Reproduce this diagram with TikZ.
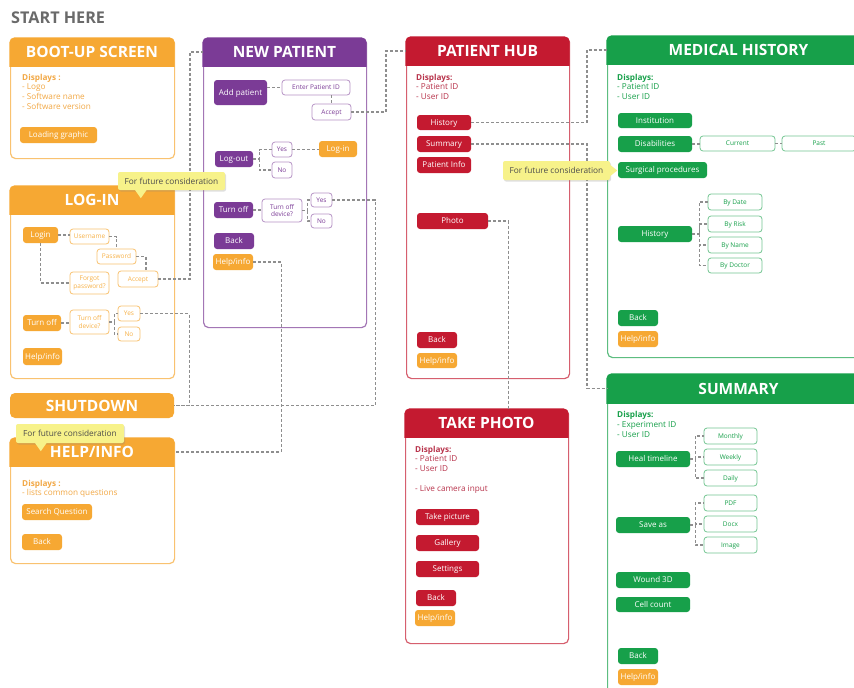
\documentclass[tikz,border=0pt]{standalone}
\usepackage{fontspec}
\setmainfont{Open Sans}
\usetikzlibrary{calc,shadows}
\definecolor{cor}{HTML}{F6A833}
\definecolor{cort}{HTML}{F2A845}
\definecolor{cpu}{HTML}{7B3B96}
\definecolor{cre}{HTML}{C41A30}
\definecolor{cret}{HTML}{B8334B}
\definecolor{cgr}{HTML}{17A04A}
\definecolor{cye}{HTML}{F7F28A}
\definecolor{cln}{HTML}{8E8E8E}
\definecolor{cgt}{HTML}{6A6A6A}
\newcommand{\ttlfont}{\fontsize{15.5}{17}\selectfont\bfseries}
\newcommand{\btfont}{\fontsize{8}{9}\selectfont}
\newcommand{\dtfont}{\fontsize{8.2}{9}\selectfont}
\newcommand{\obfont}{\fontsize{6.5}{7.3}\selectfont}
\newcommand{\bt}[7]{\node[#1, minimum width={#5-#3}, minimum height={#6-#4}] (#2) at ({(#3+#5)/2},{(#4+#6)/2}) {#7};}
\newcommand{\scr}[8]{%
  \node[draw=#7!70, line width=1.2pt, fill=white, rounded corners=5pt, inner sep=0pt, anchor=north west, minimum width={#4-#2}, minimum height={#5-#3}] (#1) at (#2,#3) {};
  \begin{scope}
    \clip ({#2-3},{#3-3}) rectangle ({#4+3},#6);
    \fill[#7, rounded corners=5pt] ({#2-0.6},{#3-0.6}) rectangle ({#4+0.6},{#5+0.6});
  \end{scope}
  \node[text=white, font=\ttlfont, inner sep=0pt, text height=11pt, text depth=0pt] (#1H) at ({(#2+#4)/2},{(#3+#6)/2}) {#8};
}
\tikzset{
  conn/.style={draw=cln, line width=1.1pt, dash pattern=on 3pt off 2pt},
  fb/.style={rounded corners=3pt, inner sep=0pt, text=white, font=\btfont, text height=5.7pt, text depth=0pt},
  fbo/.style={fb, fill=cor}, fbp/.style={fb, fill=cpu}, fbr/.style={fb, fill=cre}, fbg/.style={fb, fill=cgr},
  obase/.style={rounded corners=3pt, inner sep=0pt, fill=white, line width=0.8pt, font=\obfont, align=center},
  ob/.style={obase, text height=4.6pt, text depth=0pt},
  oo/.style={draw=cor!70, text=cor!90}, op/.style={draw=cpu!55, text=cpu}, og/.style={draw=cgr!60, text=cgr},
  dt/.style={anchor=base west, inner sep=0pt, font=\dtfont},
  tipbox/.style={fill=cye, rounded corners=2pt, inner sep=0pt, font=\fontsize{8.3}{9}\selectfont, text=black!70, drop shadow={opacity=0.25, shadow xshift=1pt, shadow yshift=-1.5pt}},
}
\begin{document}
\begin{tikzpicture}[x=1pt,y=-1pt]
\useasboundingbox (0,0) rectangle (854,688);
\clip (0,0) rectangle (854,688);
\fill[white] (0,0) rectangle (854,688);

\node[anchor=west, text=cgt, font=\fontsize{16.2}{18}\selectfont\bfseries, inner sep=0pt, text height=11.5pt, text depth=0pt] (start) at (11,18) {START HERE};

% ---------- screens ----------
\scr{bu}{10}{38}{174}{158}{66}{cor}{BOOT-UP SCREEN}
\scr{li}{10}{186}{174}{378}{214}{cor}{LOG-IN}
\node[fill=cor, rounded corners=5pt, minimum width=164, minimum height=25, inner sep=0pt, text=white, font=\ttlfont, text height=11pt, text depth=0pt] (sd) at (92,405.5) {SHUTDOWN};
\scr{hi}{10}{438}{174}{563}{466}{cor}{HELP/INFO}
\scr{np}{203}{38}{366}{327}{66}{cpu}{NEW PATIENT}
\scr{hub}{406}{37}{569}{378}{65}{cre}{PATIENT HUB}
\scr{tp}{405}{409}{568}{643}{437}{cre}{TAKE PHOTO}
\scr{mh}{607}{36}{870}{357}{64}{cgr}{MEDICAL HISTORY}
\scr{sm}{607}{374}{870}{700}{403}{cgr}{SUMMARY}

% ---------- boot-up ----------
\node[dt, text=cort] (bud0) at (22,80) {\textbf{Displays :}};
\node[dt, text=cort] (bud1) at (22,89.5) {- Logo};
\node[dt, text=cort] (bud2) at (22,99.5) {- Software name};
\node[dt, text=cort] (bud3) at (22,109) {- Software version};
\bt{fbo}{buLoad}{20}{127}{97}{143}{Loading graphic}

% ---------- log-in ----------
\bt{fbo}{liLogin}{23}{227}{58}{243}{Login}
\bt{ob,oo}{liUser}{70}{229}{109}{244}{Username}
\bt{ob,oo}{liPass}{97}{249}{136}{264}{Password}
\bt{ob,oo}{liAcc}{118}{271}{158}{287}{Accept}
\bt{obase,oo}{liForgot}{70}{272}{109}{294}{Forgot\\password?}
\bt{fbo}{liTurn}{23}{315}{61}{331}{Turn off}
\bt{obase,oo}{liDev}{70}{310}{109}{334}{Turn off\\device?}
\bt{ob,oo}{liYes}{118}{306}{140}{321}{Yes}
\bt{ob,oo}{liNo}{118}{327}{140}{341}{No}
\bt{fbo}{liHelp}{23}{348}{62}{365}{Help/info}

% ---------- help/info ----------
\node[dt, text=cort] (hid0) at (22,486) {\textbf{Displays :}};
\node[dt, text=cort] (hid1) at (22,495) {- lists common questions};
\bt{fbo}{hiSearch}{22}{504}{92}{520}{Search Question}
\bt{fbo}{hiBack}{22}{534}{62}{550}{Back}

% ---------- new patient ----------
\bt{fbp}{npAdd}{214}{80}{267}{105}{Add patient}
\bt{ob,op}{npEnter}{282}{80}{350}{95}{Enter Patient ID}
\bt{ob,op}{npAcc}{312}{104}{351}{120}{Accept}
\bt{fbp}{npLogout}{215}{151}{253}{167}{Log-out}
\bt{ob,op}{npLY}{272}{142}{292}{157}{Yes}
\bt{ob,op}{npLN}{272}{162}{292}{178}{No}
\bt{fbo}{npLogin}{319}{141}{357}{157}{Log-in}
\bt{fbp}{npTurn}{214}{202}{253}{218}{Turn off}
\bt{obase,op}{npDev}{262}{199}{302}{222}{Turn off\\device?}
\bt{ob,op}{npTY}{311}{193}{332}{207}{Yes}
\bt{ob,op}{npTN}{311}{214}{332}{228}{No}
\bt{fbp}{npBack}{214}{233}{254}{249}{Back}
\bt{fbo}{npHelp}{213}{254}{253}{270}{Help/info}

% ---------- patient hub ----------
\node[dt, text=cret] (hubd0) at (416,80) {\textbf{Displays:}};
\node[dt, text=cret] (hubd1) at (416,89.5) {- Patient ID};
\node[dt, text=cret] (hubd2) at (416,99.5) {- User ID};
\bt{fbr}{hubHist}{417}{115}{471}{130}{History}
\bt{fbr}{hubSum}{417}{136}{471}{152}{Summary}
\bt{fbr}{hubInfo}{417}{157}{471}{173}{Patient Info}
\bt{fbr}{hubPhoto}{417}{213}{488}{229}{Photo}
\bt{fbr}{hubBack}{417}{332}{457}{348}{Back}
\bt{fbo}{hubHelp}{417}{353}{457}{368}{Help/info}

% ---------- take photo ----------
\node[dt, text=cret] (tpd0) at (415,452) {\textbf{Displays:}};
\node[dt, text=cret] (tpd1) at (415,461.5) {- Patient ID};
\node[dt, text=cret] (tpd2) at (415,471.5) {- User ID};
\node[dt, text=cret] (tpd3) at (415,491.5) {- Live camera input};
\bt{fbr}{tpTake}{416}{509}{479}{525}{Take picture}
\bt{fbr}{tpGal}{416}{535}{479}{551}{Gallery}
\bt{fbr}{tpSet}{416}{561}{479}{577}{Settings}
\bt{fbr}{tpBack}{416}{590}{456}{606}{Back}
\bt{fbo}{tpHelp}{415}{610}{455}{626}{Help/info}

% ---------- medical history ----------
\node[dt, text=cgr] (mhd0) at (617,80) {\textbf{Displays:}};
\node[dt, text=cgr] (mhd1) at (617,89) {- Patient ID};
\node[dt, text=cgr] (mhd2) at (617,99) {- User ID};
\bt{fbg}{mhInst}{618}{113}{692}{128}{Institution}
\bt{fbg}{mhDis}{618}{136}{692}{152}{Disabilities}
\bt{ob,og}{mhCur}{700}{136}{775}{151}{Current}
\bt{ob,og}{mhPast}{782}{136}{856}{151}{Past}
\bt{fbg}{mhSurg}{618}{162}{707}{178}{Surgical procedures}
\bt{fbg}{mhHist}{618}{226}{692}{242}{History}
\bt{ob,og}{mhDate}{708}{194}{762}{210}{By Date}
\bt{ob,og}{mhRisk}{708}{216}{762}{232}{By Risk}
\bt{ob,og}{mhName}{708}{237}{762}{253}{By Name}
\bt{ob,og}{mhDoc}{708}{258}{762}{273}{By Doctor}
\bt{fbg}{mhBack}{618}{310}{658}{326}{Back}
\bt{fbo}{mhHelp}{618}{331}{658}{347}{Help/info}

% ---------- summary ----------
\node[dt, text=cgr] (smd0) at (617,417.5) {\textbf{Displays:}};
\node[dt, text=cgr] (smd1) at (617,427) {- Experiment ID};
\node[dt, text=cgr] (smd2) at (617,437) {- User ID};
\bt{fbg}{smHeal}{616}{451}{690}{467}{Heal timeline}
\bt{ob,og}{smMon}{704}{428}{757}{444}{Monthly}
\bt{ob,og}{smWeek}{704}{449}{757}{465}{Weekly}
\bt{ob,og}{smDaily}{704}{470}{757}{486}{Daily}
\bt{fbg}{smSave}{616}{517}{690}{533}{Save as}
\bt{ob,og}{smPdf}{704}{495}{757}{511}{PDF}
\bt{ob,og}{smDocx}{704}{516}{757}{532}{Docx}
\bt{ob,og}{smImg}{704}{537}{757}{553}{Image}
\bt{fbg}{smWound}{616}{572}{690}{588}{Wound 3D}
\bt{fbg}{smCell}{616}{597}{690}{612}{Cell count}
\bt{fbg}{smBack}{618}{648}{658}{664}{Back}
\bt{fbo}{smHelp}{618}{669}{658}{685}{Help/info}

% ---------- connectors inside screens ----------
\draw[conn] (liLogin.east) -- (liLogin.east -| liUser.west);
\draw[conn] (liUser.east) -| (liPass.north);
\draw[conn] (liPass.east) -| ([xshift=8pt]liAcc.north);
\draw[conn] (liLogin.south) |- (liForgot.west);
\draw[conn] (liTurn.east) -- (liTurn.east -| liDev.west);
\draw[conn] (liDev.east) -- ++(5,0) |- (liYes.west);
\draw[conn] ($(liDev.east)+(5,0)$) |- (liNo.west);

\draw[conn] (npAdd.east |- npEnter.west) -- (npEnter.west);
\draw[conn] (npEnter.south -| npAcc.north) -- (npAcc.north);
\draw[conn] (npLogout.east) -- ++(6,0) |- (npLY.west);
\draw[conn] ($(npLogout.east)+(6,0)$) |- (npLN.west);
\draw[conn] (npLY.east) -- (npLY.east -| npLogin.west);
\draw[conn] (npTurn.east) -- (npTurn.east -| npDev.west);
\draw[conn] (npDev.east) -- ++(5,0) |- (npTY.west);
\draw[conn] ($(npDev.east)+(5,0)$) |- (npTN.west);

\draw[conn] (mhDis.east) -- (mhDis.east -| mhCur.west);
\draw[conn] (mhCur.east) -- (mhPast.west);
\draw[conn] (mhHist.east) -- ++(7,0) |- (mhDate.west);
\draw[conn] ($(mhHist.east)+(7,0)$) |- (mhRisk.west);
\draw[conn] ($(mhHist.east)+(7,0)$) |- (mhName.west);
\draw[conn] ($(mhHist.east)+(7,0)$) |- (mhDoc.west);

\draw[conn] (smHeal.east) -- ++(5,0) |- (smMon.west);
\draw[conn] ($(smHeal.east)+(5,0)$) |- (smWeek.west);
\draw[conn] ($(smHeal.east)+(5,0)$) |- (smDaily.west);
\draw[conn] (smSave.east) -- ++(5,0) |- (smPdf.west);
\draw[conn] ($(smSave.east)+(5,0)$) |- (smDocx.west);
\draw[conn] ($(smSave.east)+(5,0)$) |- (smImg.west);

% ---------- connectors between screens ----------
\draw[conn] (liAcc.east) -| ($(np.west |- npH)+(-13,0)$) -- (np.west |- npH);
\draw[conn] (liYes.east) -| ($(sd.east)+(15,0)$) -- (sd.east);
\draw[conn] (npAcc.east) -| ($(hub.west |- hubH)+(-20,0)$) -- (hub.west |- hubH);
\draw[conn] (npTY.east) -| ($(sd.east)+(201,0)$) -- (sd.east);
\draw[conn] (npHelp.east) -| ($(hi.east |- hiH)+(106,0)$) -- (hi.east |- hiH);
\draw[conn] (hubHist.east) -| ($(mh.west |- mhH)+(-20,0)$) -- (mh.west |- mhH);
\draw[conn] (hubSum.east) -| ($(sm.west |- smH)+(-20,0)$) -- (sm.west |- smH);
\draw[conn] (hubPhoto.east) -| ($(tp.north)+(21.5,0)$);

% ---------- tooltips ----------
\node[tipbox, minimum width=107, minimum height=18] (tt1) at (171.5,181) {For future consideration};
\fill[cye] ([xshift=17pt,yshift=0.5pt]tt1.south west) -- ([xshift=29pt,yshift=0.5pt]tt1.south west) -- ([xshift=23pt,yshift=-8pt]tt1.south west) -- cycle;
\node[tipbox, minimum width=108, minimum height=19] (tt2) at (70,433.5) {For future consideration};
\fill[cye] ([xshift=19pt,yshift=0.5pt]tt2.south west) -- ([xshift=31pt,yshift=0.5pt]tt2.south west) -- ([xshift=25pt,yshift=-8pt]tt2.south west) -- cycle;
\node[tipbox, minimum width=107, minimum height=19] (tt3) at (556.5,170.5) {For future consideration};
\fill[cye] ([xshift=-0.5pt,yshift=6pt]tt3.east) -- ([xshift=-0.5pt,yshift=-6pt]tt3.east) -- ([xshift=7pt]tt3.east) -- cycle;
\end{tikzpicture}
\end{document}
